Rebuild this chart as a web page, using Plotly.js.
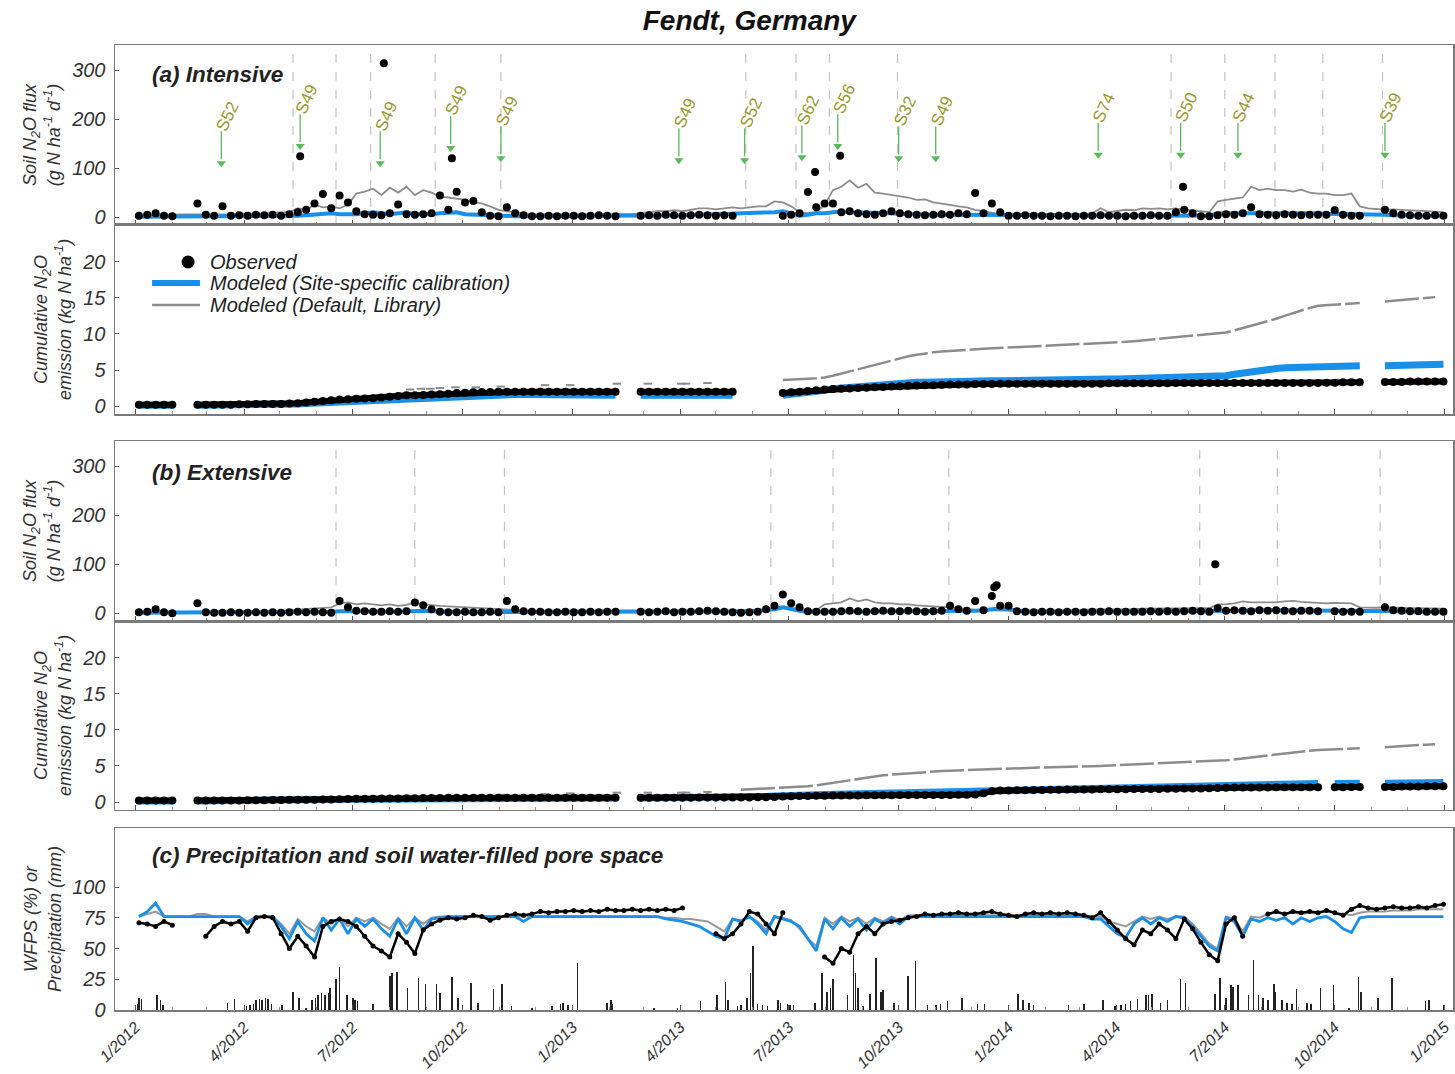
<!DOCTYPE html>
<html><head><meta charset="utf-8">
<script src="https://cdn.plot.ly/plotly-3.0.1.min.js"></script>
<style>html,body{margin:0;padding:0;background:#fff}#chart{width:1455px;height:1074px}</style>
</head><body><div id="chart"></div>
<script>
// ---------- DATA (weekly samples: day offset 3+7*i from 2012-01-01, i = 0..156) ----------
const weekStartDay = 3, weekStep = 7, weekCount = 157;

// (a) Intensive – daily soil N2O flux (g N ha-1 d-1)
const obsFluxA = [3,5,8,3,2,null,null,28,5,3,
 22,3,4,3,5,4,5,3,6,10,
 15,28,47,18,44,30,12,6,5,4,
 8,26,6,5,6,8,44,15,52,30,
 33,10,3,2,20,8,4,2,2,3,
 2,3,3,2,3,4,3,2,null,null,
 3,4,3,5,4,3,4,5,4,3,
 4,3,null,null,null,null,null,3,5,8,
 51,20,28,28,10,12,8,6,5,8,
 12,8,6,5,4,5,6,5,8,6,
 49,8,28,10,3,3,4,3,3,2,
 3,3,2,3,3,4,3,3,2,3,
 3,4,3,3,10,15,8,2,2,4,
 6,5,8,20,6,5,4,6,5,4,
 5,5,5,14,5,3,3,null,null,15,
 8,5,4,3,3,4,3];
const peakADay = [138,208,265,569,590,877];
const peakAVal = [124,314,120,92,125,62];
const siteFluxA = [1,1,1,1,1,1,1,1,1,1,
 1,1,1,1,1,2,2,2,2,3,
 4,5,6,8,6,5,6,8,10,8,
 6,8,10,6,5,6,8,8,10,6,
 5,4,3,2,2,2,2,2,2,2,
 2,2,2,2,2,2,2,2,2,2,
 2,3,3,3,4,4,5,5,6,6,
 7,7,8,8,9,10,10,12,8,3,
 5,8,8,10,12,10,10,8,8,8,
 8,7,6,6,6,5,5,5,4,4,
 3,3,3,3,3,3,3,3,3,3,
 3,3,3,3,3,3,3,3,3,3,
 3,3,3,3,3,3,3,3,3,8,
 8,8,9,10,10,10,10,9,9,9,
 8,8,7,7,6,6,5,5,5,5,
 4,4,4,4,3,3,3];
const defFluxA = [5,5,6,5,5,5,6,6,6,5,
 6,6,7,7,8,8,9,10,10,18,
 15,25,20,22,18,25,48,52,58,45,
 60,50,62,45,55,50,42,40,38,35,
 30,28,22,15,12,10,8,6,6,6,
 5,5,5,5,5,5,5,5,6,6,
 8,10,12,12,14,12,15,18,18,16,
 18,20,18,20,22,22,32,30,22,10,
 8,10,25,55,62,75,60,68,50,48,
 45,42,40,35,36,30,28,25,22,20,
 15,12,8,6,5,5,5,5,5,5,
 5,6,6,6,8,18,10,12,15,14,
 18,17,18,16,18,15,14,12,10,32,
 35,38,40,62,55,58,55,55,52,56,
 50,48,48,45,45,48,22,18,16,15,
 16,15,14,14,12,12,10];

// (a) Intensive – cumulative emission (kg N ha-1)
const obsCumA = [0.2,0.2,0.2,0.2,0.2,null,null,0.2,0.2,0.2,
 0.2,0.2,0.25,0.25,0.3,0.3,0.3,0.3,0.35,0.4,
 0.5,0.6,0.7,0.8,0.9,0.95,1.0,1.05,1.1,1.2,
 1.3,1.4,1.5,1.5,1.55,1.6,1.65,1.7,1.8,1.85,
 1.9,1.95,1.95,2.0,2.0,2.0,2.0,2.0,2.0,2.0,
 2.0,2.0,2.0,2.0,2.0,2.0,2.0,2.0,null,null,
 2.0,2.0,2.0,2.0,2.0,2.0,2.0,2.0,2.0,2.0,
 2.0,2.0,null,null,null,null,null,1.8,1.9,2.0,
 2.1,2.2,2.3,2.35,2.4,2.45,2.5,2.55,2.6,2.65,
 2.7,2.75,2.8,2.85,2.9,2.9,2.95,3.0,3.0,3.0,
 3.05,3.05,3.05,3.1,3.1,3.1,3.1,3.1,3.1,3.1,
 3.1,3.1,3.1,3.1,3.1,3.1,3.15,3.15,3.15,3.15,
 3.15,3.15,3.15,3.15,3.2,3.2,3.2,3.2,3.2,3.2,
 3.2,3.2,3.2,3.2,3.2,3.2,3.2,3.2,3.2,3.2,
 3.2,3.2,3.25,3.25,3.3,3.3,3.3,null,null,3.35,
 3.35,3.35,3.4,3.4,3.4,3.4,3.4];
const siteCumA = [0.1,0.1,0.1,0.1,0.1,null,null,0.1,0.1,0.1,
 0.1,0.1,0.15,0.15,0.2,0.2,0.2,0.2,0.25,0.3,
 0.35,0.4,0.5,0.6,0.7,0.75,0.8,0.85,0.9,0.95,
 1.0,1.1,1.15,1.2,1.25,1.3,1.35,1.4,1.45,1.5,
 1.55,1.6,1.6,1.6,1.6,1.6,1.6,1.6,1.6,1.6,
 1.6,1.6,1.5,1.5,1.5,1.5,1.5,1.5,null,null,
 1.5,1.5,1.5,1.5,1.5,1.5,1.5,1.5,1.5,1.5,
 1.5,1.5,null,null,null,null,null,1.5,1.6,1.7,
 1.9,2.0,2.2,2.4,2.5,2.7,2.8,2.9,3.0,3.1,
 3.15,3.2,3.25,3.3,3.3,3.35,3.35,3.4,3.4,3.45,
 3.45,3.5,3.5,3.5,3.5,3.52,3.54,3.56,3.58,3.6,
 3.62,3.64,3.66,3.68,3.7,3.72,3.74,3.76,3.78,3.8,
 3.82,3.84,3.86,3.88,3.9,3.92,3.94,3.96,3.98,4.0,
 4.2,4.4,4.6,4.8,5.0,5.1,5.2,5.3,5.35,5.4,
 5.45,5.5,5.5,5.55,5.6,5.6,5.6,null,null,5.6,
 5.65,5.7,5.7,5.75,5.8,5.8,5.8];
const defCumA = [null,null,null,null,null,null,null,null,null,null,
 null,null,null,null,null,null,null,null,null,null,
 null,null,null,null,null,null,null,null,null,null,
 null,null,null,null,null,null,null,null,null,null,
 null,null,null,null,null,null,null,null,null,null,
 null,null,null,null,null,null,null,null,null,null,
 null,null,null,null,null,null,null,null,null,null,
 null,null,null,null,null,null,null,3.6,3.7,3.75,
 3.8,3.85,3.95,4.2,4.5,4.8,5.1,5.4,5.8,6.1,
 6.4,6.65,6.9,7.1,7.3,7.45,7.55,7.65,7.75,7.85,
 7.9,7.95,8.0,8.05,8.1,8.15,8.2,8.25,8.3,8.35,
 8.4,8.45,8.5,8.55,8.6,8.7,8.8,8.85,8.9,9.0,
 9.1,9.2,9.3,9.4,9.5,9.6,9.7,9.8,9.9,10.0,
 10.2,10.5,10.8,11.1,11.4,11.7,12.1,12.5,12.9,13.3,
 13.6,13.9,14.0,14.1,14.2,14.25,14.3,null,null,14.5,
 14.6,14.7,14.8,14.9,15.0,15.1,null];
const defCumEarlyDay = [230,239,247,255,268,285,306,343,364,403,429,457,461,479];
const defCumEarlyA = [2.3,2.4,2.4,2.5,2.6,2.6,2.7,2.9,2.9,3.1,3.1,3.1,3.1,3.2];
const defCumEarlyB = [0.6,0.7,0.7,0.8,0.8,0.9,1.0,1.1,1.2,1.3,1.3,1.3,1.3,1.4];

// (b) Extensive – daily flux
const obsFluxB = [2,3,8,2,0,null,null,20,2,1,
 1,2,1,1,2,1,2,1,2,3,
 2,3,2,1,25,12,5,4,3,3,
 4,3,4,22,16,8,3,2,2,3,
 2,2,3,2,25,8,4,3,3,2,
 2,3,2,2,3,2,3,3,null,null,
 3,2,3,4,2,3,3,4,5,4,
 3,2,1,2,3,8,15,38,20,12,
 4,3,3,3,4,5,4,3,4,5,
 4,4,5,4,3,4,5,15,8,5,
 25,6,35,15,15,4,3,2,3,3,
 2,3,3,2,3,3,4,3,3,3,
 3,4,3,4,3,4,5,4,3,10,
 5,6,5,4,6,5,6,5,4,5,
 5,4,null,4,3,3,3,null,null,12,
 6,5,4,4,3,3,3];
const peakBDay = [719,721,904];
const peakBVal = [53,57,100];
const siteFluxB = [1,1,1,1,1,1,1,1,1,1,
 1,1,1,1,1,1,1,1,2,2,
 2,2,3,3,4,5,4,4,3,3,
 3,3,4,5,5,4,3,3,3,2,
 2,2,2,2,3,2,2,2,2,2,
 2,2,2,2,2,2,2,2,2,2,
 2,2,2,2,2,2,2,2,2,3,
 3,3,3,4,5,6,8,12,8,5,
 3,3,3,4,5,5,5,4,4,4,
 4,4,4,4,3,3,3,3,3,4,
 5,6,8,10,8,5,3,3,3,3,
 3,3,3,3,3,3,3,3,3,3,
 3,3,3,3,3,3,3,3,3,4,
 4,5,5,6,6,6,5,5,5,5,
 5,5,5,5,4,4,4,4,4,4,
 4,4,3,3,3,3,3];
const defFluxB = [2,2,2,2,2,2,2,3,3,3,
 3,3,3,3,4,4,4,5,6,7,
 8,9,10,12,20,22,18,20,18,16,
 18,15,17,22,18,16,15,14,13,12,
 12,11,10,9,8,6,6,5,5,5,
 5,4,4,4,4,4,4,4,4,4,
 4,4,4,4,5,5,5,5,5,5,
 5,5,6,6,6,7,8,12,10,8,
 7,6,18,20,22,30,24,28,22,20,
 20,18,18,16,15,15,14,12,10,8,
 7,6,5,5,5,5,5,5,5,5,
 6,6,6,7,7,8,8,8,8,8,
 9,9,9,9,9,9,9,10,10,18,
 18,20,24,22,22,23,22,24,25,23,
 22,22,20,21,20,20,12,11,11,12,
 11,11,10,10,10,9,9];

// (b) Extensive – cumulative
const obsCumB = [0.2,0.2,0.2,0.2,0.2,null,null,0.2,0.2,0.2,
 0.2,0.2,0.22,0.24,0.25,0.26,0.27,0.28,0.3,0.3,
 0.3,0.32,0.34,0.36,0.4,0.42,0.44,0.45,0.46,0.48,
 0.5,0.5,0.52,0.54,0.55,0.56,0.57,0.58,0.58,0.6,
 0.6,0.6,0.6,0.6,0.6,0.6,0.6,0.6,0.6,0.6,
 0.6,0.6,0.6,0.6,0.6,0.6,0.6,0.6,null,null,
 0.6,0.6,0.6,0.6,0.6,0.6,0.6,0.62,0.62,0.62,
 0.63,0.63,0.64,0.64,0.65,0.66,0.7,0.75,0.8,0.82,
 0.84,0.86,0.88,0.9,0.9,0.92,0.92,0.94,0.94,0.95,
 0.95,0.96,0.96,0.97,0.97,0.98,0.98,0.99,1.0,1.0,
 1.05,1.2,1.5,1.6,1.6,1.62,1.64,1.66,1.68,1.7,
 1.7,1.72,1.72,1.74,1.74,1.76,1.76,1.78,1.78,1.8,
 1.8,1.82,1.82,1.84,1.84,1.86,1.86,1.88,1.9,1.95,
 1.98,2.0,2.0,2.0,2.02,2.02,2.04,2.04,2.05,2.05,
 2.05,2.05,null,2.05,2.05,2.1,2.1,null,null,2.1,
 2.1,2.15,2.15,2.15,2.2,2.2,2.2];
const siteCumB = [0.15,0.15,0.15,0.15,0.15,null,null,0.15,0.15,0.15,
 0.15,0.15,0.17,0.19,0.2,0.21,0.22,0.23,0.25,0.25,
 0.25,0.27,0.29,0.31,0.35,0.37,0.39,0.4,0.41,0.43,
 0.45,0.45,0.47,0.49,0.5,0.51,0.52,0.53,0.53,0.55,
 0.55,0.55,0.55,0.55,0.55,0.55,0.55,0.55,0.55,0.55,
 0.55,0.55,0.55,0.55,0.55,0.55,0.55,0.55,null,null,
 0.55,0.55,0.55,0.56,0.56,0.57,0.58,0.6,0.62,0.64,
 0.66,0.68,0.7,0.72,0.74,0.76,0.82,0.9,0.95,0.98,
 1.0,1.02,1.05,1.08,1.1,1.12,1.15,1.18,1.2,1.22,
 1.24,1.26,1.28,1.3,1.3,1.32,1.33,1.34,1.35,1.4,
 1.45,1.5,1.6,1.65,1.7,1.72,1.74,1.76,1.78,1.8,
 1.82,1.84,1.86,1.88,1.9,1.92,1.94,1.96,1.98,2.0,
 2.02,2.04,2.06,2.08,2.1,2.12,2.14,2.16,2.18,2.22,
 2.26,2.3,2.34,2.38,2.42,2.45,2.48,2.5,2.52,2.54,
 2.55,2.56,null,2.57,2.58,2.58,2.6,null,null,2.6,
 2.62,2.62,2.64,2.65,2.66,2.68,2.7];
const defCumB = [null,null,null,null,null,null,null,null,null,null,
 null,null,null,null,null,null,null,null,null,null,
 null,null,null,null,null,null,null,null,null,null,
 null,null,null,null,null,null,null,null,null,null,
 null,null,null,null,null,null,null,null,null,null,
 null,null,null,null,null,null,null,null,null,null,
 null,null,null,null,null,null,null,null,null,null,
 null,null,1.7,1.75,1.8,1.85,1.9,1.95,2.0,2.1,
 2.2,2.3,2.45,2.6,2.8,3.0,3.2,3.4,3.55,3.7,
 3.8,3.9,4.0,4.1,4.2,4.25,4.3,4.35,4.4,4.45,
 4.5,4.55,4.6,4.6,4.65,4.7,4.72,4.75,4.78,4.8,
 4.83,4.86,4.9,4.93,4.96,5.0,5.05,5.1,5.15,5.2,
 5.25,5.3,5.35,5.4,5.45,5.5,5.55,5.58,5.6,5.7,
 5.8,5.9,6.0,6.15,6.3,6.45,6.6,6.75,6.9,7.0,
 7.1,7.2,7.25,7.3,7.35,7.4,7.45,null,null,7.6,
 7.7,7.75,7.8,7.9,7.95,8.0,null];

// (c) WFPS (%)
const obsWFPS = [71,70,68,72,69,null,null,null,60,68,
 72,70,72,64,75,76,75,62,50,60,
 52,43,68,72,74,72,68,60,52,48,
 43,62,55,46,65,70,73,75,74,75,
 77,76,73,75,77,78,77,78,80,79,
 80,80,81,80,81,80,82,81,81,82,
 81,82,81,82,81,83,null,null,null,62,
 58,62,70,80,78,70,62,79,null,null,
 null,null,43,38,50,47,62,68,62,70,
 72,73,75,76,78,77,78,78,79,78,
 78,79,80,78,77,76,78,79,78,79,
 78,79,78,77,75,79,72,65,58,53,
 65,62,70,65,58,74,66,55,45,40,
 70,75,60,null,null,78,80,78,80,79,
 80,79,81,79,77,82,85,83,82,83,
 84,83,83,84,83,85,86];
const siteWFPS = [76,80,87,76,76,76,76,76,76,76,
 76,76,76,70,76,76,76,68,58,72,
 62,56,75,65,74,62,74,68,74,66,
 60,74,62,75,65,74,75,76,76,76,
 76,76,76,76,76,76,72,76,76,76,
 76,76,76,76,76,76,76,76,76,76,
 76,76,76,74,73,72,70,68,64,60,
 58,74,72,76,70,62,76,74,72,68,
 58,48,74,66,75,68,74,65,74,70,
 75,70,76,76,76,76,76,76,76,76,
 76,76,76,76,76,76,76,76,76,76,
 76,76,76,76,74,74,68,62,59,70,
 75,70,75,72,76,75,68,60,52,48,
 75,72,60,74,72,75,73,75,70,75,
 72,75,76,72,66,63,75,76,76,76,
 76,76,76,76,76,76,76];
const defWFPS = [76,78,80,76,76,76,76,78,78,76,
 76,76,76,72,76,76,76,70,62,74,
 68,64,75,70,75,68,75,72,75,70,
 66,75,68,75,70,75,76,76,76,76,
 76,76,76,76,76,76,76,76,76,76,
 76,76,76,76,76,76,76,76,76,76,
 76,76,76,75,75,74,74,73,72,68,
 64,74,73,76,72,65,76,75,73,66,
 58,52,75,70,76,72,75,70,75,72,
 76,73,77,77,77,77,77,77,77,77,
 77,77,77,77,77,77,77,77,77,77,
 77,77,77,77,76,76,72,70,68,72,
 76,74,76,74,76,76,70,62,54,50,
 76,74,64,76,75,78,79,78,79,78,
 79,79,80,79,78,77,79,80,80,80,
 81,81,81,82,82,82,82];

// (c) Precipitation (mm), day offset from 2012-01-01
const precipDay = [2,3,5,18,21,23,
 77,83,93,96,99,101,104,106,109,111,114,123,132,137,143,
 148,151,153,156,159,162,163,168,171,177,182,184,186,199,
 213,215,219,228,237,243,252,255,265,270,281,287,300,307,315,332,349,
 356,358,362,370,395,398,399,434,454,473,487,494,496,504,507,512,515,517,521,525,529,538,540,546,548,551,
 569,575,579,582,584,596,601,603,605,609,615,620,624,626,635,647,653,663,670,674,680,692,705,711,
 739,743,748,752,781,794,810,820,825,829,833,839,846,848,851,858,864,875,879,904,908,913,917,919,923,932,936,940,944,948,953,954,960,964,968,972,981,984,992,1003,1016,1024,1026,1040,1052,1080,1083,1095];
const precipMm = [5,10,9,12,8,4,
 6,9,3,4,5,8,9,8,10,9,5,4,15,10,2,
 8,10,12,14,12,14,18,25,35,12,10,8,7,5,
 28,30,31,18,26,21,21,14,27,10,22,6,17,21,3,2,3,
 5,6,4,38,6,8,5,2,2,7,12,23,8,3,4,10,30,52,5,4,3,8,6,5,4,4,
 6,30,15,18,25,12,45,30,18,3,13,42,15,16,6,28,40,4,4,5,7,10,5,5,
 13,8,6,4,4,5,8,3,4,5,7,9,12,12,13,6,8,25,22,13,26,10,20,19,20,12,41,12,10,8,21,15,8,6,5,17,6,5,18,20,2,27,15,10,26,7,8,4];

// Management events (arrows) in panel (a)
const eventDay = [72,138,205,264,306,455,510,558,588,639,670,806,875,923,1046];
const eventLabel = ['S52','S49','S49','S49','S49','S49','S52','S62','S56','S32','S49','S74','S50','S44','S39'];
const eventTip = [110,145,110,141,120,116,116,122,145,120,120,127,127,127,127];
const arrowLength = 65; // flux units (shaft length)
// Dashed vertical reference lines
const dashDayA = [132,168,197,251,306,511,553,581,638,867,912,954,994,1044];
const dashDayB = [168,234,309,532,584,681,891,956,1042];

// Legend entries
const legendNames = ['Observed', 'Modeled (Site-specific calibration)', 'Modeled (Default, Library)'];

// ---------- BUILD ----------
function d(n){ return new Date(Date.UTC(2012,0,1) + Math.round(n*864e5)).toISOString().slice(0,10); }
const weekX = Array.from({length: weekCount}, (_, i) => d(weekStartDay + weekStep*i));

const F = 'Liberation Sans, Arial, sans-serif';
const BLACK = '#000000', BLUE = '#1a8fe8', GRAY = '#8c8c8c', GREEN = '#5cb85c';

function flux(xa, ya, obs, site, def, pkDay, pkVal){
  return [
    {x: weekX, y: def, xaxis: xa, yaxis: ya, mode:'lines', line:{color:GRAY, width:1.8}, showlegend:false, connectgaps:true},
    {x: weekX, y: site, xaxis: xa, yaxis: ya, mode:'lines', line:{color:BLUE, width:4}, showlegend:false, connectgaps:true},
    {x: weekX, y: obs, xaxis: xa, yaxis: ya, mode:'markers', marker:{color:BLACK, size:8}, showlegend:false},
    {x: pkDay.map(d), y: pkVal, xaxis: xa, yaxis: ya, mode:'markers', marker:{color:BLACK, size:8}, showlegend:false}
  ];
}
function cum(xa, ya, obs, site, def, earlyVal){
  return [
    {x: defCumEarlyDay.map(d), y: earlyVal, xaxis: xa, yaxis: ya, mode:'markers', marker:{symbol:'line-ew', size:6, line:{color:GRAY, width:2}}, showlegend:false},
    {x: weekX, y: def, xaxis: xa, yaxis: ya, mode:'lines', line:{color:GRAY, width:2.5, dash:'34px,4px'}, showlegend:false},
    {x: weekX, y: site, xaxis: xa, yaxis: ya, mode:'lines', line:{color:BLUE, width:7}, showlegend:false},
    {x: weekX, y: obs, xaxis: xa, yaxis: ya, mode:'lines+markers', line:{color:BLACK, width:6}, marker:{color:BLACK, size:8}, showlegend:false}
  ];
}

// arrows (shaft + head) built from event data through the data axes
const shaftX = [], shaftY = [];
eventDay.forEach((n, k) => { shaftX.push(d(n), d(n), null); shaftY.push(eventTip[k] + arrowLength, eventTip[k] + 8, null); });

const traces = [].concat(
  flux('x','y', obsFluxA, siteFluxA, defFluxA, peakADay, peakAVal),
  [
    {x: shaftX, y: shaftY, xaxis:'x', yaxis:'y', mode:'lines', line:{color:GREEN, width:1.3}, showlegend:false},
    {x: eventDay.map(d), y: eventTip, xaxis:'x', yaxis:'y', mode:'markers', marker:{symbol:'triangle-down', color:GREEN, size:8, line:{width:0}}, showlegend:false}
  ],
  cum('x2','y2', obsCumA, siteCumA, defCumA, defCumEarlyA),
  flux('x3','y3', obsFluxB, siteFluxB, defFluxB, peakBDay, peakBVal),
  cum('x4','y4', obsCumB, siteCumB, defCumB, defCumEarlyB),
  [
    {type:'bar', x: precipDay.map(d), y: precipMm, xaxis:'x5', yaxis:'y5', width: 1.3*864e5, marker:{color:'#222', line:{width:0}}, showlegend:false},
    {x: weekX, y: defWFPS, xaxis:'x5', yaxis:'y5', mode:'lines', line:{color:'#999', width:2}, showlegend:false, connectgaps:true},
    {x: weekX, y: siteWFPS, xaxis:'x5', yaxis:'y5', mode:'lines', line:{color:BLUE, width:2.8}, showlegend:false, connectgaps:true},
    {x: weekX, y: obsWFPS, xaxis:'x5', yaxis:'y5', mode:'lines+markers', line:{color:BLACK, width:2.5}, marker:{color:BLACK, size:5}, showlegend:false}
  ]
);

const xRange = ['2011-12-15','2015-01-08'];
const tickFont = {family:F, size:20, style:'italic', color:'#333'};
const titleFont = {family:F, size:18, style:'italic', color:'#333'};
const LINE = '#7a7a7a';
function xax(anchor, showLabels){
  return {anchor: anchor, range: xRange, type:'date', showline:true, mirror:true, linecolor:LINE, linewidth:1.5,
    showgrid:false, zeroline:false, ticks:'inside', ticklen:5, tickcolor:'#555', dtick:'M3', tick0:'2012-01-01',
    minor:{ticks:'inside', ticklen:3, dtick:'M1', tick0:'2012-01-01', tickcolor:'#999'},
    showticklabels: showLabels, tickformat:'%-m/%Y', tickangle:-45,
    tickfont:{family:F, size:16, style:'italic', color:'#333'}};
}
function yax(anchor, domain, range, tickvals, title){
  return {anchor: anchor, domain: domain, range: range, tickvals: tickvals, showline:true, mirror:true,
    linecolor:LINE, linewidth:1.5, showgrid:false, zeroline:false, ticks:'inside', ticklen:4, tickcolor:'#555',
    tickfont: tickFont, ticklabelstandoff:4, title:{text:title, font:titleFont, standoff:6}};
}

const shapes = [];
dashDayA.forEach(n => shapes.push({type:'line', xref:'x', yref:'y domain', x0:d(n), x1:d(n), y0:0, y1:1, layer:'below', line:{color:'#c4c4c4', width:1.2, dash:'dash'}}));
dashDayB.forEach(n => shapes.push({type:'line', xref:'x3', yref:'y3 domain', x0:d(n), x1:d(n), y0:0, y1:1, layer:'below', line:{color:'#c4c4c4', width:1.2, dash:'dash'}}));
// legend swatches (paper coordinates)
const LX0 = 0.0277, LX1 = 0.0635, LTX = 0.0695;
const LY = [0.7751, 0.7534, 0.7306];
shapes.push({type:'circle', xref:'paper', yref:'paper', xsizemode:'pixel', ysizemode:'pixel', xanchor:0.0546, yanchor:LY[0], x0:-6.5, x1:6.5, y0:-6.5, y1:6.5, fillcolor:BLACK, line:{width:0}});
shapes.push({type:'line', xref:'paper', yref:'paper', x0:LX0, x1:LX1, y0:LY[1], y1:LY[1], line:{color:BLUE, width:6}});
shapes.push({type:'line', xref:'paper', yref:'paper', x0:LX0, x1:LX1, y0:LY[2], y1:LY[2], line:{color:GRAY, width:2.5}});

const annotations = [];
eventDay.forEach((n, k) => {
  annotations.push({xref:'x', yref:'y', x:d(n), y:eventTip[k], text:eventLabel[k], showarrow:false,
    xshift:6, yshift:47, textangle:-65, font:{family:F, size:17, color:'#9a9a30'}});
});
legendNames.forEach((t, k) => annotations.push({xref:'paper', yref:'paper', x:LTX, y:LY[k], xanchor:'left', yanchor:'middle', showarrow:false, text:t,
  font:{family:F, size:20, style:'italic', color:'#222'}}));
const panelFont = {family:F, size:22.5, style:'italic', weight:'bold', color:'#222'};
annotations.push({xref:'paper', yref:'paper', x:0.026, y:0.969, xanchor:'left', yanchor:'middle', showarrow:false, text:'(a) Intensive', font:panelFont});
annotations.push({xref:'paper', yref:'paper', x:0.026, y:0.5575, xanchor:'left', yanchor:'middle', showarrow:false, text:'(b) Extensive', font:panelFont});
annotations.push({xref:'paper', yref:'paper', x:0.026, y:0.1596, xanchor:'left', yanchor:'middle', showarrow:false, text:'(c) Precipitation and soil water-filled pore space', font:panelFont});

const fluxTitle = 'Soil N<sub>2</sub>O flux<br>(g N ha<sup>-1</sup> d<sup>-1</sup>)';
const cumTitle = 'Cumulative N<sub>2</sub>O<br>emission (kg N ha<sup>-1</sup>)';

const layout = {
  width:1455, height:1074,
  margin:{l:115, r:2, t:45, b:64},
  paper_bgcolor:'#fff', plot_bgcolor:'rgba(0,0,0,0)',
  font:{family:F, color:'#333'},
  title:{text:'Fendt, Germany', x:0.515, xref:'container', y:0.981, yref:'container', xanchor:'center', yanchor:'middle',
    font:{family:F, size:28, style:'italic', weight:'bold', color:'#111'}},
  hovermode:false,
  bargap:0,
  showlegend:false,
  xaxis: xax('y', false),
  xaxis2: xax('y2', false),
  xaxis3: xax('y3', false),
  xaxis4: xax('y4', false),
  xaxis5: xax('y5', true),
  yaxis: yax('x', [0.8135, 1], [-16, 351], [0,100,200,300], fluxTitle),
  yaxis2: yax('x2', [0.6176, 0.8135], [-1.1, 25.1], [0,5,10,15,20], cumTitle),
  yaxis3: yax('x3', [0.4031, 0.5896], [-16, 351], [0,100,200,300], fluxTitle),
  yaxis4: yax('x4', [0.2073, 0.4031], [-1.1, 25.1], [0,5,10,15,20], cumTitle),
  yaxis5: yax('x5', [0, 0.1886], [0, 148], [0,25,50,75,100], 'WFPS (%) or<br>Precipitation (mm)'),
  shapes: shapes,
  annotations: annotations
};

Plotly.newPlot('chart', traces, layout, {staticPlot:true, displayModeBar:false});
</script>
</body></html>
